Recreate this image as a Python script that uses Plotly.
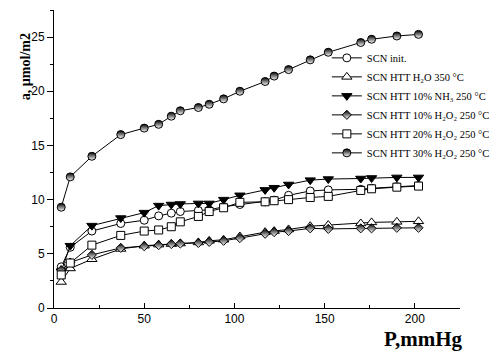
import plotly.graph_objects as go

# Pressure, mmHg (shared by all series)
pressure = [4, 9, 21, 37, 50, 58, 65, 70, 80, 86, 94, 103, 117, 122, 130, 142, 152, 170, 176, 190, 202]

# Adsorption a, umol/m2
scn_init = [3.8, 5.6, 7.1, 7.8, 8.1, 8.5, 8.75, 8.9, 9.0, 9.05, 9.35, 9.55, 9.8, 9.95, 10.4, 10.8, 10.9, 10.95, 11.05, 11.2, 11.3]
htt_h2o_350 = [2.4, 3.65, 4.5, 5.45, 5.75, 5.85, 5.9, 5.95, 6.05, 6.2, 6.3, 6.6, 7.0, 7.1, 7.25, 7.55, 7.65, 7.8, 7.9, 7.95, 8.0]
htt_nh3_10 = [3.4, 5.75, 7.6, 8.3, 8.8, 9.45, 9.55, 9.6, 9.65, 9.65, 10.0, 10.4, 10.9, 11.1, 11.4, 11.8, 11.9, 11.95, 12.0, 12.05, 12.05]
htt_h2o2_10 = [3.5, 4.2, 4.9, 5.55, 5.7, 5.8, 5.9, 5.95, 6.0, 6.1, 6.2, 6.45, 6.85, 7.0, 7.1, 7.35, 7.3, 7.35, 7.35, 7.4, 7.4]
htt_h2o2_20 = [3.05, 4.15, 5.8, 6.7, 7.1, 7.2, 7.5, 7.95, 8.45, 8.9, 9.25, 9.75, 9.8, 9.9, 10.0, 10.2, 10.3, 10.85, 11.0, 11.15, 11.25]
htt_h2o2_30 = [9.3, 12.1, 14.0, 16.0, 16.6, 16.95, 17.7, 18.2, 18.5, 18.8, 19.3, 20.0, 20.9, 21.4, 22.0, 22.9, 23.6, 24.5, 24.8, 25.1, 25.25]

names = [
    "SCN init.",
    "SCN HTT H₂O 350 °C",
    "SCN HTT 10% NH₃ 250 °C",
    "SCN HTT 10% H₂O₂ 250 °C",
    "SCN HTT 20% H₂O₂ 250 °C",
    "SCN HTT 30% H₂O₂ 250 °C",
]
series = [scn_init, htt_h2o_350, htt_nh3_10, htt_h2o2_10, htt_h2o2_20, htt_h2o2_30]

half = dict(type="vertical", color="white")
markers = [
    dict(symbol="circle", size=8, color="white", line=dict(color="black", width=1)),
    dict(symbol="triangle-up", size=9, color="white", line=dict(color="black", width=1)),
    dict(symbol="triangle-down", size=9, color="black", line=dict(color="black", width=1)),
    dict(symbol="diamond", size=7, color="black", gradient=half, line=dict(color="black", width=1)),
    dict(symbol="square", size=8, color="white", line=dict(color="black", width=1)),
    dict(symbol="circle", size=8, color="black", gradient=half, line=dict(color="black", width=1)),
]

fig = go.Figure()
for name, ys, mk in zip(names, series, markers):
    fig.add_trace(go.Scatter(
        x=pressure, y=ys, name=name, mode="lines+markers",
        line=dict(color="black", width=1), marker=mk,
    ))

tickfont = dict(family="Liberation Sans, Arial, sans-serif", size=12, color="black")
fig.update_layout(
    width=492, height=352,
    margin=dict(l=54, r=32, t=10, b=44, autoexpand=False),
    paper_bgcolor="white", plot_bgcolor="white",
    showlegend=True,
    legend=dict(
        x=0.672, y=0.68, xanchor="left", yanchor="middle",
        bgcolor="rgba(0,0,0,0)", borderwidth=0, tracegroupgap=0,
        font=dict(family="Liberation Serif, Times New Roman, serif", size=10.5, color="black"),
    ),
    xaxis=dict(
        range=[0, 225], showgrid=False, zeroline=False,
        showline=True, linecolor="black", linewidth=1,
        tickmode="array", tickvals=[0, 50, 100, 150, 200],
        ticks="inside", ticklen=5, tickcolor="black", tickfont=tickfont,
        minor=dict(dtick=25, ticks="inside", ticklen=3, tickcolor="black"),
    ),
    yaxis=dict(
        range=[0, 27.5], showgrid=False, zeroline=False,
        showline=True, linecolor="black", linewidth=1,
        tickmode="array", tickvals=[0, 5, 10, 15, 20, 25],
        ticks="outside", ticklen=6, tickcolor="black", tickfont=tickfont,
        minor=dict(dtick=2.5, ticks="outside", ticklen=3, tickcolor="black"),
    ),
    annotations=[
        dict(text="<b>P,mmHg</b>", xref="paper", yref="paper", x=0.81, y=-0.1477,
             xanchor="left", yanchor="bottom", showarrow=False, borderpad=0,
             font=dict(family="Liberation Serif, Times New Roman, serif", size=21, color="black")),
        dict(text="<b>a, µmol/m2</b>", xref="paper", yref="paper", x=-0.07, y=0.81,
             xanchor="center", yanchor="middle", textangle=-90, showarrow=False,
             font=dict(family="Liberation Serif, Times New Roman, serif", size=14, color="black")),
    ],
)

fig.write_html("out.html")
